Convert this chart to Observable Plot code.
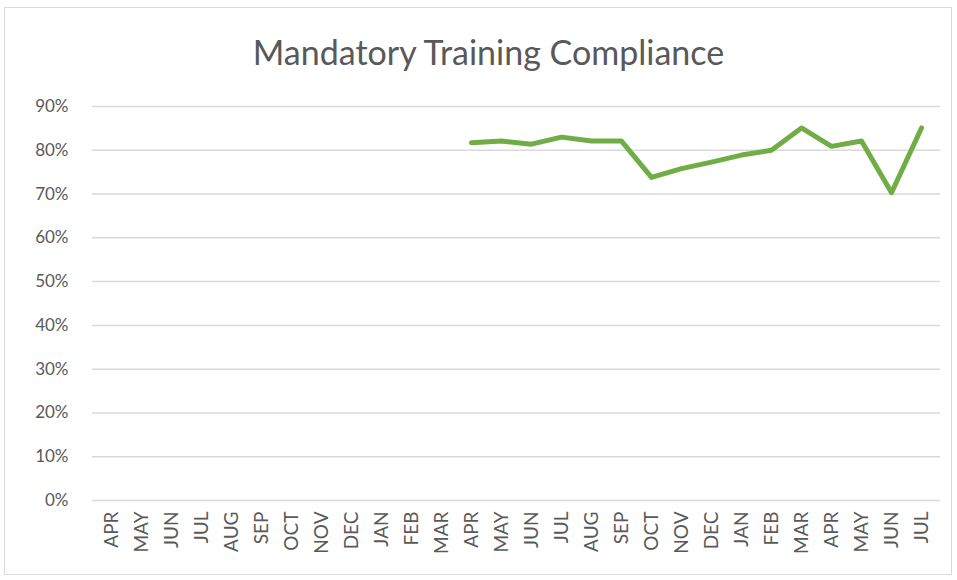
<!DOCTYPE html>
<html>
<head>
<meta charset="utf-8">
<script src="https://cdn.jsdelivr.net/npm/d3@7"></script>
<script src="https://cdn.jsdelivr.net/npm/@observablehq/plot@0.6"></script>
<style>
  html, body { margin: 0; padding: 0; background: #fff; }
  #frame { position: relative; width: 957px; height: 580px; overflow: hidden; }
  #border { position: absolute; left: 4px; top: 7px; width: 948px; height: 568px; border: 1px solid #d9d9d9; box-sizing: border-box; pointer-events: none; }
  #title { height: 80px; line-height: 80px; padding-top: 12px; box-sizing: border-box; text-align: center; font-family: Lato, sans-serif; font-size: 34px; color: #595959; padding-left: 20px; }
  svg { display: block; }
</style>
</head>
<body>
<div id="frame">
  <div id="border"></div>
  <div id="title">Mandatory Training Compliance</div>
  <div id="chart"></div>
</div>
<script>
const months = ["APR","MAY","JUN","JUL","AUG","SEP","OCT","NOV","DEC","JAN","FEB","MAR",
                "APR","MAY","JUN","JUL","AUG","SEP","OCT","NOV","DEC","JAN","FEB","MAR",
                "APR","MAY","JUN","JUL"];
const compliance = [null,null,null,null,null,null,null,null,null,null,null,null,
                    81.7,82.1,81.4,83.0,82.1,82.1,73.8,75.8,77.3,78.9,80.0,85.1,
                    80.9,82.1,70.3,85.1];
const yTicks = [0,10,20,30,40,50,60,70,80,90];

const data = months.map((m, i) => ({i, m, v: compliance[i]}));

const chart = Plot.plot({
  width: 957,
  height: 500,
  marginLeft: 92,
  marginRight: 17,
  marginTop: 26,
  marginBottom: 80,
  style: {fontFamily: "Lato, sans-serif", fontSize: "17px", color: "#595959", background: "transparent"},
  x: {type: "point", domain: d3.range(months.length), padding: 0.5, label: null, axis: null},
  y: {domain: [0, 90], ticks: yTicks, tickFormat: d => d + "%", label: null, tickSize: 0, tickPadding: 24},
  marks: [
    Plot.ruleY(yTicks, {stroke: "#d9d9d9", strokeWidth: 1.5}),
    Plot.axisX({tickFormat: i => months[i], tickRotate: -90, tickSize: 0, tickPadding: 11, label: null, fontSize: 19}),
    Plot.line(data.filter(d => d.v != null), {x: "i", y: "v", stroke: "#70ad47", strokeWidth: 5, strokeLinejoin: "round", strokeLinecap: "round"})
  ]
});
document.getElementById("chart").appendChild(chart);
</script>
</body>
</html>
